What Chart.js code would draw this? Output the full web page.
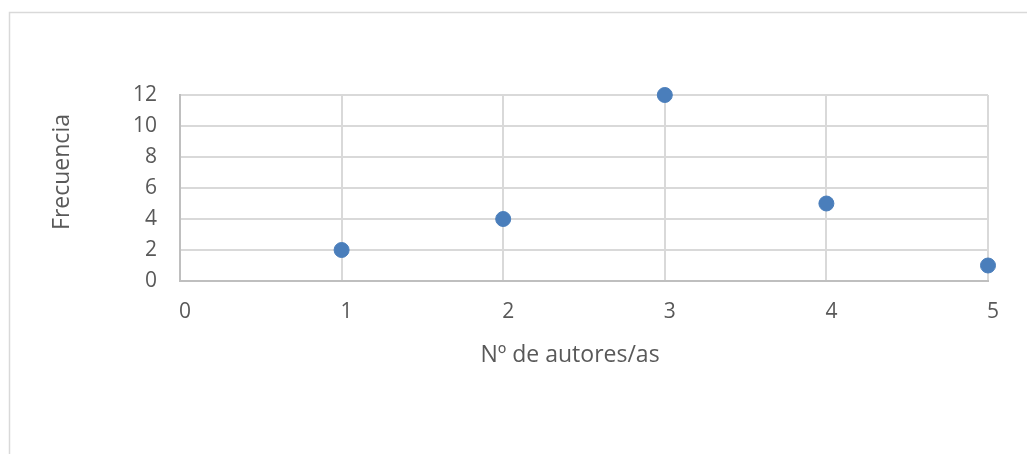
<!DOCTYPE html>
<html>
<head>
<meta charset="utf-8">
<script src="https://cdn.jsdelivr.net/npm/chart.js@4"></script>
<style>
  html, body { margin: 0; padding: 0; background: #fff; }
  #box { width: 1027px; height: 454px; }
</style>
</head>
<body>
<div id="box"><canvas id="chart"></canvas></div>
<script>
const xValues = [1, 2, 3, 4, 5];
const yValues = [2, 4, 12, 5, 1];
const xTitle = 'Nº de autores/as';
const yTitle = 'Frecuencia';

const fontFamily = '"Open Sans", Lato, sans-serif';
const textColor = '#595959';

// outer frame and the two axis titles, placed like the Excel original
const framePlugin = {
    id: 'frame',
    beforeDraw(chart) {
        const c = chart.ctx;
        c.save();
        c.strokeStyle = '#d9d9d9';
        c.lineWidth = 1.5;
        c.beginPath();
        c.moveTo(9.5, 460);
        c.lineTo(9.5, 12.5);
        c.lineTo(1030, 12.5);
        c.stroke();
        c.restore();
    },
    afterDraw(chart) {
        const c = chart.ctx;
        c.save();
        c.font = '23px ' + fontFamily;
        c.fillStyle = textColor;
        c.textAlign = 'center';
        c.textBaseline = 'middle';
        c.fillText(xTitle, 570, 355);
        c.translate(62, 172);
        c.rotate(-Math.PI / 2);
        c.fillText(yTitle, 0, 0);
        c.restore();
    }
};

new Chart(document.getElementById('chart'), {
    type: 'scatter',
    data: {
        datasets: [{
            data: xValues.map((x, i) => ({x: x, y: yValues[i]})),
            backgroundColor: '#4a7ebb',
            borderColor: '#4a7ebb',
            pointRadius: 7.5,
            pointHoverRadius: 7.5,
            clip: false
        }]
    },
    plugins: [framePlugin],
    options: {
        responsive: true,
        maintainAspectRatio: false,
        animation: false,
        layout: {padding: {left: 0, right: 39, top: 95, bottom: 0}},
        plugins: {legend: {display: false}, tooltip: {enabled: false}},
        scales: {
            x: {
                type: 'linear',
                min: 0,
                max: 5,
                afterFit(scale) { scale.height = 173; },
                ticks: {
                    stepSize: 1,
                    color: textColor,
                    font: {family: fontFamily, size: 21},
                    padding: 18,
                    labelOffset: 5
                },
                grid: {color: '#d9d9d9', lineWidth: 2, drawTicks: false},
                border: {color: '#bfbfbf', width: 2}
            },
            y: {
                min: 0,
                max: 12,
                afterFit(scale) { scale.width = 180; },
                ticks: {
                    stepSize: 2,
                    color: textColor,
                    font: {family: fontFamily, size: 21},
                    padding: 23
                },
                grid: {color: '#d9d9d9', lineWidth: 2, drawTicks: false},
                border: {color: '#bfbfbf', width: 2}
            }
        }
    }
});
</script>
</body>
</html>
